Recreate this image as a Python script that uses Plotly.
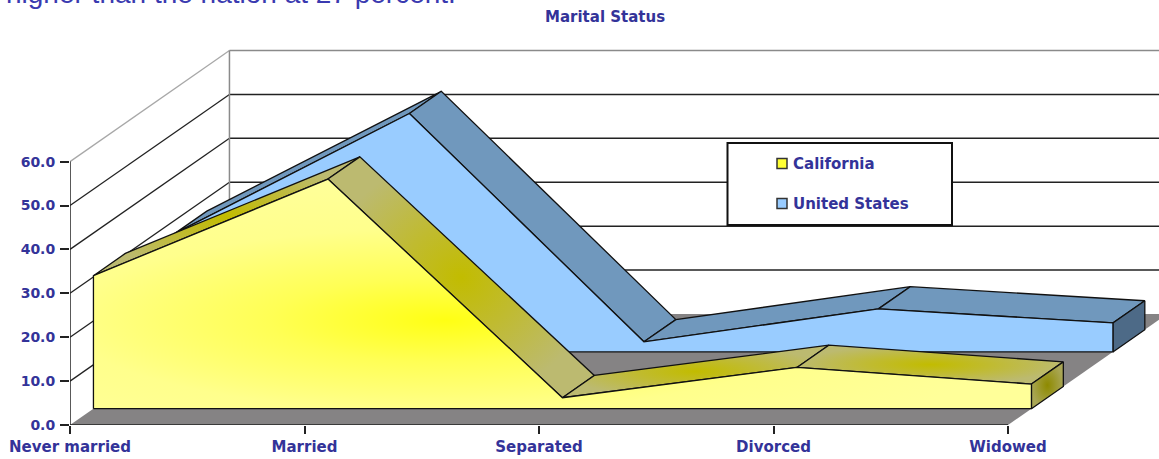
import plotly.graph_objects as go

categories = ["Never married", "Married", "Separated", "Divorced", "Widowed"]
california = [30.3, 52.3, 2.5, 9.4, 5.6]
united_states = [27.0, 54.3, 2.3, 9.8, 6.6]
y_ticks = [0, 10, 20, 30, 40, 50, 60]

# oblique projection of the chart's depth axis, in axis units
DX, DY = 0.680, 25.3
CA_DEPTH = (0.147, 0.347)
US_DEPTH = (0.658, 0.858)

W, H = 1159, 459
ML, MB = 70, 34
PX_X, PX_Y = 234.5, 4.39
INK = "#333399"
FONT = "DejaVu Sans"
EDGE = "#111111"


def P(c, v, d):
    return c + d * DX, v + d * DY


fig = go.Figure()


def poly(points, fill=None, line=EDGE, width=1.3, grad=None, closed=True):
    xs = [p[0] for p in points]
    ys = [p[1] for p in points]
    if closed:
        xs.append(xs[0])
        ys.append(ys[0])
    kw = dict(x=xs, y=ys, mode="lines", hoverinfo="skip", showlegend=False, cliponaxis=False,
              line=dict(color=line, width=width, simplify=False))
    if grad:
        kw.update(fill="toself", fillgradient=dict(type="radial", colorscale=grad))
    elif fill:
        kw.update(fill="toself", fillcolor=fill)
    if width == 0:
        kw["line"] = dict(color="rgba(0,0,0,0)", width=0, simplify=False)
    fig.add_trace(go.Scatter(**kw))


n = len(categories) - 1
# floor
poly([P(0, 0, 0), P(n, 0, 0), P(n, 0, 1), P(0, 0, 1)], fill="#858384", width=0)
# walls and gridlines
for v in y_ticks[1:]:
    top = v == y_ticks[-1]
    poly([P(0, v, 0), P(0, v, 1)], line="#a8a8a8" if top else "#222222", closed=False)
    poly([P(0, v, 1), P(n, v, 1)], line="#8a8a8a" if top else "#222222", width=1.5, closed=False)
poly([P(0, 0, 1), P(0, y_ticks[-1], 1)], line="#8a8a8a", width=1.5, closed=False)
# front axis lines
poly([P(0, 0, 0), P(0, y_ticks[-1], 0)], line="#222222", width=1.5, closed=False)
poly([P(0, 0, 0), P(n, 0, 0)], line="#222222", width=1.5, closed=False)


def series(values, depth, front, top, end, top_grad=None, end_grad=None, front_grad=None):
    d0, d1 = depth
    for i in range(n):
        poly([P(i, values[i], d0), P(i + 1, values[i + 1], d0),
              P(i + 1, values[i + 1], d1), P(i, values[i], d1)],
             fill=top, grad=top_grad)
    poly([P(n, 0, d0), P(n, values[n], d0), P(n, values[n], d1), P(n, 0, d1)],
         fill=end, grad=end_grad)
    outline = [P(0, 0, d0)] + [P(i, values[i], d0) for i in range(n + 1)] + [P(n, 0, d0)]
    if front_grad:
        # zero-area spurs along the base shift the gradient's bounding box to its hot spot
        fx, fy = P(0, 0, d0)
        fill_path = [(fx - 1.0, fy), (fx, fy), (fx, fy - 12), (fx, fy)] + outline[1:]
        poly(fill_path, grad=front_grad, width=0)
        poly(outline, fill=None)
    else:
        poly(outline, fill=front)


series(united_states, US_DEPTH, "#99ccff", "#7098bd", "#4d6a87")
olive = [[0, "#c2bc00"], [0.45, "#c0bb30"], [1, "#bcba70"]]
series(california, CA_DEPTH, None, None, None,
       top_grad=olive,
       end_grad=[[0, "#8e8a00"], [1, "#a9a655"]],
       front_grad=[[0, "#ffff14"], [0.3, "#ffff55"], [0.65, "#ffff8c"], [1, "#ffff99"]])


def xp(px):
    return (px - ML) / (W - ML)


def yp(py):
    return (H - MB - py) / (H - MB)


shapes = [dict(type="rect", xref="paper", yref="paper", x0=xp(727.5), x1=xp(952), y0=yp(143), y1=yp(225),
               fillcolor="white", line=dict(color="#111111", width=2))]
annotations = [
    dict(text="Marital Status", x=xp(605), y=yp(17), xref="paper", yref="paper", showarrow=False,
         xanchor="center", yanchor="middle", font=dict(family=FONT, size=15, color=INK, weight="bold")),
    dict(text="higher than the nation at 27 percent.", x=xp(4), y=yp(11), xref="paper", yref="paper",
         showarrow=False, xanchor="left", yanchor="bottom",
         font=dict(family="Liberation Sans", size=28, color="#3a3ab0")),
]
for name, color, cy in [("California", "#ffff33", 163.5), ("United States", "#99ccff", 203.5)]:
    shapes.append(dict(type="rect", xref="paper", yref="paper", x0=xp(777), x1=xp(787), y0=yp(cy - 5), y1=yp(cy + 5),
                       fillcolor=color, line=dict(color="#333333", width=1.5)))
    annotations.append(dict(text=name, x=xp(791), y=yp(cy), xref="paper", yref="paper", showarrow=False,
                            xanchor="left", yanchor="middle",
                            font=dict(family=FONT, size=15, color=INK, weight="bold")))

fig.update_layout(
    width=W, height=H, margin=dict(l=ML, r=0, t=0, b=MB, pad=0),
    paper_bgcolor="white", plot_bgcolor="white", showlegend=False,
    shapes=shapes, annotations=annotations,
    xaxis=dict(range=[0, (W - ML) / PX_X], tickmode="array", tickvals=list(range(len(categories))),
               ticktext=categories, ticks="outside", ticklen=8, tickwidth=1.5, tickcolor="#222222",
               showgrid=False, zeroline=False, showline=False, tickangle=0,
               tickfont=dict(family=FONT, size=15, color=INK, weight="bold")),
    yaxis=dict(range=[0, (H - MB) / PX_Y], tickmode="array", tickvals=y_ticks, tickformat=".1f",
               ticks="outside", ticklen=9, tickwidth=1.5, tickcolor="#222222", ticklabelstandoff=2,
               showgrid=False, zeroline=False, showline=False,
               tickfont=dict(family=FONT, size=14, color=INK, weight="bold")),
)
fig.write_html("out.html", config={"displayModeBar": False},
               post_script="document.body.style.margin='0';document.documentElement.style.overflow='hidden';")
